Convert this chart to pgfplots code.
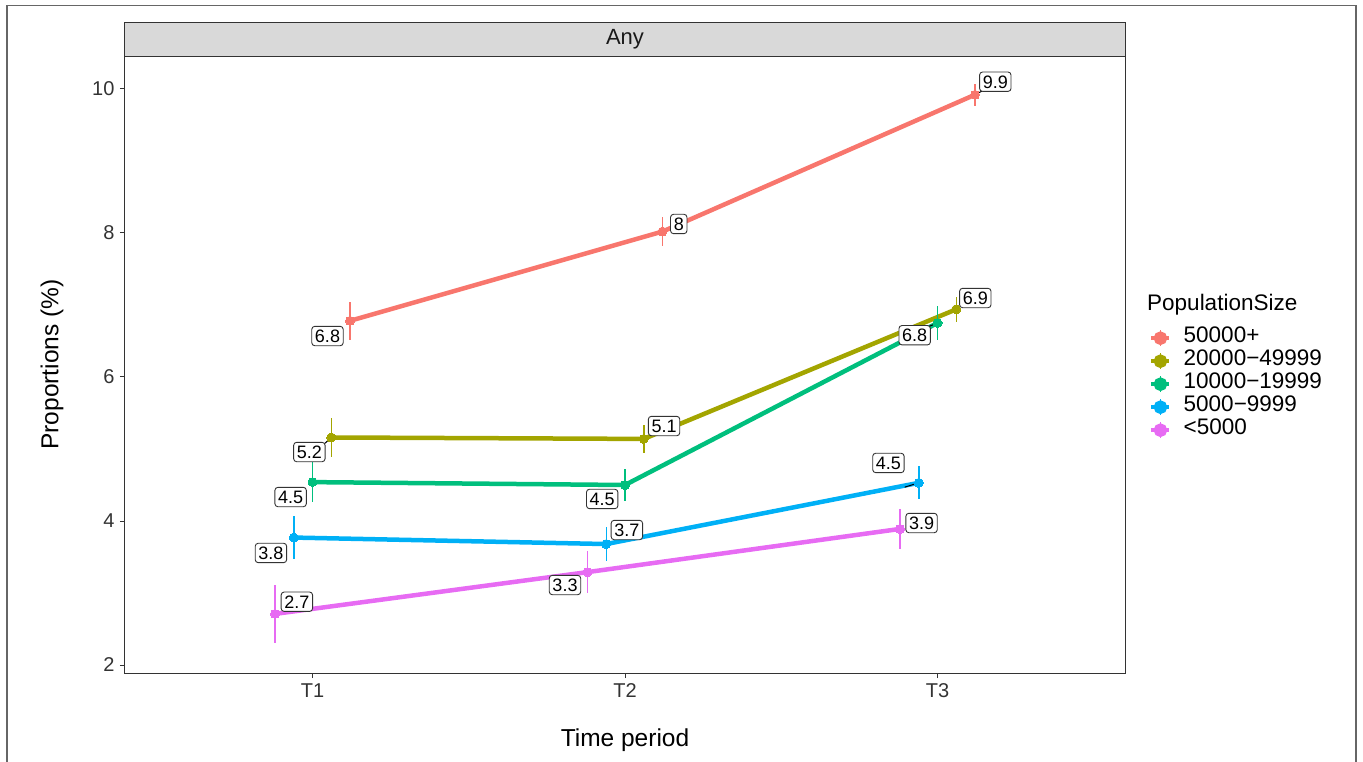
\documentclass[border=0pt]{standalone}
\usepackage{pgfplots}
\pgfplotsset{compat=1.18}
\usepackage{fontspec}
\setmainfont{Liberation Sans}
\definecolor{c1}{HTML}{F8766D}
\definecolor{c2}{HTML}{A3A500}
\definecolor{c3}{HTML}{00BF7D}
\definecolor{c4}{HTML}{00B0F6}
\definecolor{c5}{HTML}{E76BF3}
\definecolor{g20}{HTML}{333333}
\definecolor{g85}{HTML}{D9D9D9}
\tikzset{lbl/.style={draw=g20, fill=white, rounded corners=3pt, line width=0.9pt, inner sep=3.2pt, text height=13pt, text depth=0pt, font=\fontsize{18}{20}\selectfont, text=black}}
\begin{document}
\begin{tikzpicture}
\begin{axis}[
  name=ax, clip=false,
  scale only axis, width=1000pt, height=617pt,
  xmin=0.4, xmax=3.6, ymin=1.889, ymax=10.458,
  xtick={1,2,3}, xticklabels={T1,T2,T3},
  ytick={2,4,6,8,10},
  tick align=outside, tick pos=left, major tick length=5pt,
  tick style={color=g20, line width=1pt},
  axis line style={draw=g20, line width=1pt},
  /pgf/number format/assume math mode=true,
  ticklabel style={font=\fontsize{20}{24}\selectfont, text=black!80},
  yticklabel style={xshift=-2pt},
  xticklabel style={yshift=-2pt},
  xlabel={Time period}, ylabel={Proportions (\%)},
  every axis y label/.style={at={(rel axis cs:0,0.5)}, xshift=-73pt, rotate=90, anchor=center, font=\fontsize{24.5}{28}\selectfont, text=black},
  every axis x label/.style={at={(rel axis cs:0.5,0)}, yshift=-67pt, anchor=center, font=\fontsize{24.5}{28}\selectfont, text=black},
  legend cell align=left,
  legend style={at={(rel axis cs:1.024,0.5616)}, anchor=north west, draw=none, fill=none,
    inner sep=0pt, column sep=12pt, row sep=0pt,
    font=\fontsize{22.5}{26}\selectfont,
    nodes={inner sep=0pt, text height=16pt, text depth=7pt}},
  legend image code/.code={
    \draw[line width=1.5pt] (9pt,-8pt) -- (9pt,8pt);
    \draw[line width=4.5pt] (0pt,0pt) -- (18pt,0pt);
    \fill (9pt,0pt) circle (4.5pt);
  },
  every axis plot/.append style={line width=4.5pt, mark=*, mark size=4.5pt,
     mark options={line width=0pt},
     error bars/y dir=both, error bars/y explicit, error bars/error mark=none},
]
\addplot[c1, error bars/error bar style={line width=1.5pt, c1}] table[y error=e] {
x y e
1.12 6.78 0.26
2.12 8.02 0.20
3.12 9.92 0.15
};
\addlegendentry{50000+}
\addplot[c2, error bars/error bar style={line width=1.5pt, c2}] table[y error=e] {
x y e
1.06 5.16 0.27
2.06 5.14 0.20
3.06 6.94 0.17
};
\addlegendentry{20000−49999}
\addplot[c3, error bars/error bar style={line width=1.5pt, c3}] table[y error=e] {
x y e
1.00 4.54 0.28
2.00 4.50 0.22
3.00 6.75 0.23
};
\addlegendentry{10000−19999}
\addplot[c4, error bars/error bar style={line width=1.5pt, c4}] table[y error=e] {
x y e
0.94 3.77 0.30
1.94 3.68 0.23
2.94 4.53 0.23
};
\addlegendentry{5000−9999}
\addplot[c5, error bars/error bar style={line width=1.5pt, c5}] table[y error=e] {
x y e
0.88 2.71 0.40
1.88 3.29 0.29
2.88 3.89 0.28
};
\addlegendentry{<5000}
% repel segments
\draw[black, line width=1pt] (axis cs:1.035,5.06) -- (axis cs:1.06,5.16);
\draw[black, line width=1pt] (axis cs:3.12,9.92) -- (axis cs:3.155,10.0);
\draw[black, line width=1pt] (axis cs:2.96,6.68) -- (axis cs:3.0,6.75);
\draw[black, line width=1pt] (axis cs:2.895,4.47) -- (axis cs:2.94,4.53);
% value labels
\node[lbl] at (axis cs:1.048,6.569) {6.8};
\node[lbl] at (axis cs:2.172,8.125) {8};
\node[lbl] at (axis cs:3.185,10.101) {9.9};
\node[lbl] at (axis cs:0.990,4.958) {5.2};
\node[lbl] at (axis cs:2.125,5.319) {5.1};
\node[lbl] at (axis cs:3.121,7.097) {6.9};
\node[lbl] at (axis cs:0.930,4.333) {4.5};
\node[lbl] at (axis cs:1.927,4.306) {4.5};
\node[lbl] at (axis cs:2.927,6.580) {6.8};
\node[lbl] at (axis cs:0.867,3.556) {3.8};
\node[lbl] at (axis cs:2.006,3.875) {3.7};
\node[lbl] at (axis cs:2.843,4.806) {4.5};
\node[lbl] at (axis cs:0.950,2.879) {2.7};
\node[lbl] at (axis cs:1.808,3.111) {3.3};
\node[lbl] at (axis cs:2.949,3.972) {3.9};
% strip
\filldraw[fill=g85, draw=g20, line width=1pt] (rel axis cs:0,1) rectangle ([yshift=34pt]rel axis cs:1,1);
\node[font=\fontsize{22}{26}\selectfont, text=black!90] at ([yshift=17pt]rel axis cs:0.5,1) {Any};
\node[anchor=west, font=\fontsize{22.5}{26}\selectfont, inner sep=0pt] at (rel axis cs:1.022,0.5964) {PopulationSize};
\end{axis}
\draw[black!60, line width=1.5pt] (-118pt,-120pt) -- (-118pt,667.5pt) -- (1231pt,667.5pt) -- (1231pt,-120pt);
\pgfresetboundingbox
\path[use as bounding box] (-125pt,-88pt) rectangle (1238pt,673pt);
\end{tikzpicture}
\end{document}
